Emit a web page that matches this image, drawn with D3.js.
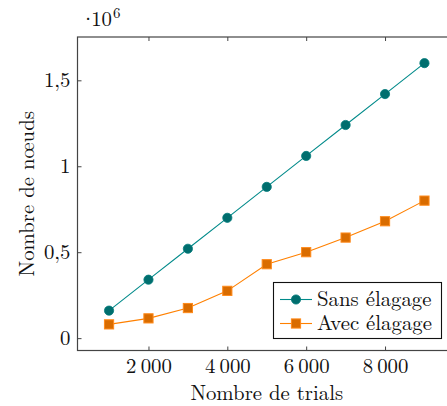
<!DOCTYPE html>
<html>
<head>
<meta charset="utf-8">
<script src="https://cdn.jsdelivr.net/npm/d3@7"></script>
<style>
  body { margin: 0; background: #fff; }
  svg { display: block; overflow: hidden; }
</style>
</head>
<body>
<div id="chart"></div>
<script>
// trials (x) and number of nodes (y)
const trials = [1000, 2000, 3000, 4000, 5000, 6000, 7000, 8000, 9000];
const sansElagage = [160000, 340000, 520000, 700000, 880000, 1060000, 1240000, 1420000, 1600000];
const avecElagage = [80000, 115000, 175000, 275000, 430000, 500000, 585000, 680000, 800000];
const xTicks = [2000, 4000, 6000, 8000];
const yTicks = [0, 500000, 1000000, 1500000];
const seriesNames = ['Sans élagage', 'Avec élagage'];

const WIDTH = 447, HEIGHT = 406;
const PLOT = {left: 77.5, right: 456, top: 37, bottom: 350.5};
const FONT = 20.8;
const FAMILY = '"Latin Modern Roman", "Liberation Serif", serif';

// pgfplots-like 10% enlargement of the data limits
const xExt = d3.extent(trials);
const yExt = d3.extent(sansElagage.concat(avecElagage));
const xPad = (xExt[1] - xExt[0]) * 0.1;
const yPad = (yExt[1] - yExt[0]) * 0.1;

const x = d3.scaleLinear()
    .domain([xExt[0] - xPad, xExt[1] + xPad])
    .range([PLOT.left, PLOT.right]);

const y = d3.scaleLinear()
    .domain([yExt[0] - yPad, yExt[1] + yPad])
    .range([PLOT.bottom, PLOT.top]);

const svg = d3.select('#chart')
    .append('svg')
    .attr('width', WIDTH)
    .attr('height', HEIGHT);

// thousands with thin space, decimals with comma
const fmtX = d => d3.format(',')(d).replace(/,/g, '\u2009');
const fmtY = d => String(d / 1e6).replace('.', ',');

function serif(sel, size) {
    return sel.style('font-family', FAMILY).style('font-size', size + 'px').attr('fill', '#111');
}

function styleAxis(g) {
    g.select('.domain').remove();
    g.selectAll('.tick line').attr('stroke', '#444').attr('stroke-width', 1);
    serif(g.selectAll('.tick text'), FONT);
}

// bottom axis, ticks pointing inward
svg.append('g')
    .attr('transform', `translate(0, ${PLOT.bottom})`)
    .call(d3.axisBottom(x).tickValues(xTicks).tickFormat(fmtX).tickSizeInner(-4).tickSizeOuter(0).tickPadding(8))
    .call(styleAxis);

// top axis, ticks only
svg.append('g')
    .attr('transform', `translate(0, ${PLOT.top})`)
    .call(d3.axisTop(x).tickValues(xTicks).tickFormat('').tickSizeInner(-4).tickSizeOuter(0))
    .call(styleAxis);

// left axis
svg.append('g')
    .attr('transform', `translate(${PLOT.left}, 0)`)
    .call(d3.axisLeft(y).tickValues(yTicks).tickFormat(fmtY).tickSizeInner(-4).tickSizeOuter(0).tickPadding(7))
    .call(styleAxis);

// axis box
svg.append('rect')
    .attr('x', PLOT.left)
    .attr('y', PLOT.top)
    .attr('width', PLOT.right - PLOT.left)
    .attr('height', PLOT.bottom - PLOT.top)
    .attr('fill', 'none')
    .attr('stroke', '#444')
    .attr('stroke-width', 1.2);

// scale label  ·10^6
const scaleLbl = serif(svg.append('text'), FONT)
    .attr('x', 80)
    .attr('y', 26);
scaleLbl.append('tspan').text('\u00b7');
scaleLbl.append('tspan').attr('dx', -5).text('10');
scaleLbl.append('tspan').attr('dx', 1).attr('dy', -8).style('font-size', '15px').text('6');

// axis titles
serif(svg.append('text'), FONT)
    .attr('x', (PLOT.left + PLOT.right) / 2)
    .attr('y', 400)
    .attr('text-anchor', 'middle')
    .text('Nombre de trials');

serif(svg.append('text'), FONT)
    .attr('transform', `translate(34, ${(PLOT.top + PLOT.bottom) / 2}) rotate(-90)`)
    .attr('text-anchor', 'middle')
    .text('Nombre de nœuds');

const series = [
    {name: seriesNames[0], values: sansElagage, line: '#008a8a', fill: '#006e6e', stroke: '#007a7a', shape: 'circle'},
    {name: seriesNames[1], values: avecElagage, line: '#ff8000', fill: '#d96c00', stroke: '#ff8a1a', shape: 'square'}
];

const line = d3.line()
    .x((d, i) => x(trials[i]))
    .y(d => y(d));

function drawMarker(g, s, cx, cy) {
    if (s.shape === 'circle') {
        g.append('circle')
            .attr('cx', cx).attr('cy', cy).attr('r', 4.6)
            .attr('fill', s.fill).attr('stroke', s.stroke).attr('stroke-width', 0.8);
    } else {
        g.append('rect')
            .attr('x', cx - 4.6).attr('y', cy - 4.6)
            .attr('width', 9.2).attr('height', 9.2)
            .attr('fill', s.fill).attr('stroke', s.stroke).attr('stroke-width', 1);
    }
}

series.forEach(s => {
    svg.append('path')
        .datum(s.values)
        .attr('d', line)
        .attr('fill', 'none')
        .attr('stroke', s.line)
        .attr('stroke-width', 1.1);
    const mg = svg.append('g');
    s.values.forEach((v, i) => drawMarker(mg, s, x(trials[i]), y(v)));
});

// legend (south east)
const legend = svg.append('g');
legend.append('rect')
    .attr('x', 273.5).attr('y', 282.5)
    .attr('width', 168).attr('height', 56)
    .attr('fill', '#fff')
    .attr('stroke', '#111')
    .attr('stroke-width', 1.1);

series.forEach((s, i) => {
    const cy = 299.5 + i * 24;
    legend.append('line')
        .attr('x1', 280).attr('x2', 312)
        .attr('y1', cy).attr('y2', cy)
        .attr('stroke', s.line).attr('stroke-width', 1.1);
    drawMarker(legend, s, 296, cy);
    serif(legend.append('text'), FONT)
        .attr('x', 317)
        .attr('y', cy)
        .attr('dy', '0.33em')
        .text(s.name);
});
</script>
</body>
</html>
